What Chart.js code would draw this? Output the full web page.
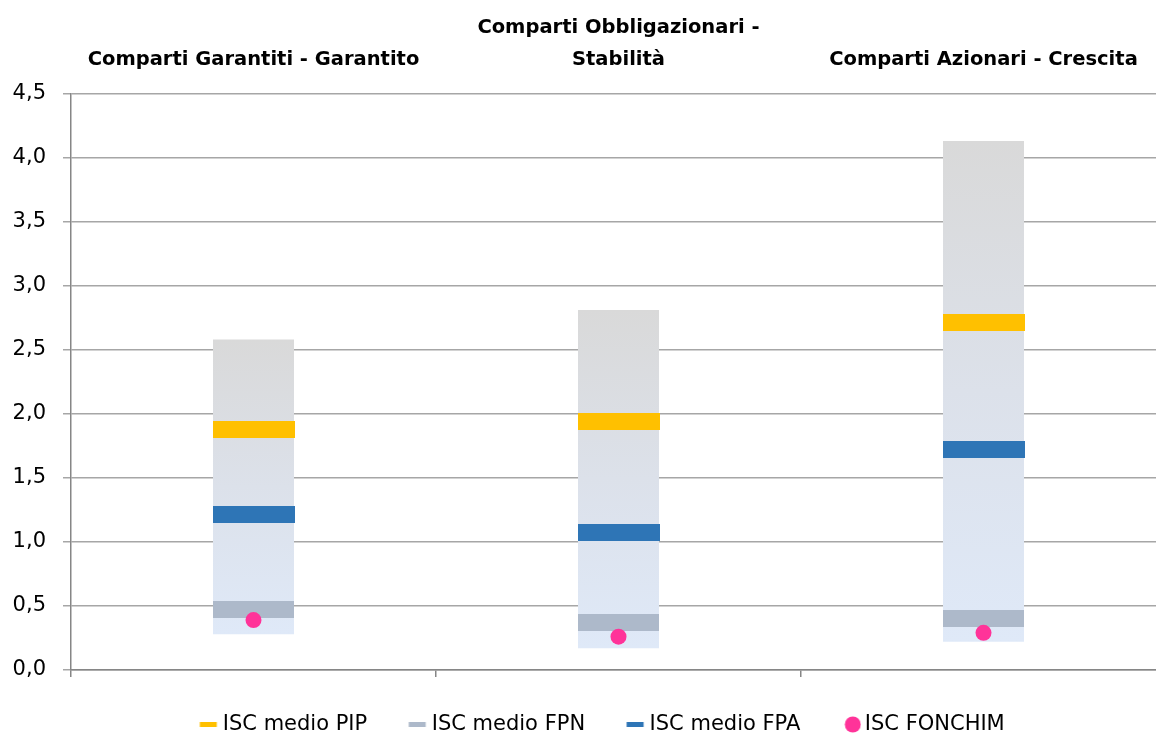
<!DOCTYPE html>
<html><head><meta charset="utf-8">
<script src="https://cdn.jsdelivr.net/npm/chart.js@4/dist/chart.umd.min.js"></script>
<style>
html,body{margin:0;padding:0;overflow:hidden;background:#fff;}
canvas{display:block;}
</style></head><body>
<canvas id="c" width="1175" height="734"></canvas>
<script>
// ---- data ----
const categories = [["Comparti Garantiti - Garantito"], ["Comparti Obbligazionari -", "Stabilità"], ["Comparti Azionari - Crescita"]];
const rangeMin = [0.28, 0.17, 0.22];
const rangeMax = [2.58, 2.81, 4.13];
const iscPIP = [1.88, 1.94, 2.71];
const iscFPN = [0.47, 0.37, 0.40];
const iscFPA = [1.21, 1.07, 1.72];
const iscFONCHIM = [0.39, 0.26, 0.29];
const seriesNames = ["ISC medio PIP", "ISC medio FPN", "ISC medio FPA", "ISC FONCHIM"];

// ---- styles ----
const COL_PIP = '#ffc000', COL_FPN = '#adb9ca', COL_FPA = '#2e75b6', COL_FON = '#ff3399';
function band(color, w, h){ const c=document.createElement('canvas'); c.width=w; c.height=h; const x=c.getContext('2d'); x.fillStyle=color; x.fillRect(0,0,w,h); return c; }
function legendIcon(color, kind){
  const c=document.createElement('canvas'); c.width=60; c.height=21; const x=c.getContext('2d'); x.fillStyle=color;
  if(kind==='dot'){ x.beginPath(); x.arc(51.5,10.5,8,0,Math.PI*2); x.fill(); }
  else { x.fillRect(40.5,8,17,5); }
  return c;
}
const legendIcons = [legendIcon(COL_PIP,'dash'), legendIcon(COL_FPN,'dash'), legendIcon(COL_FPA,'dash'), legendIcon(COL_FON,'dot')];

const rangeData = rangeMin.map((v,i)=>[v, rangeMax[i]]);

const titlePlugin = {
  id:'catTitles',
  afterDraw(chart){
    const ctx=chart.ctx, xs=chart.scales.x;
    ctx.save();
    ctx.font='bold 19.5px "DejaVu Sans"'; ctx.fillStyle='#000'; ctx.textAlign='center'; ctx.textBaseline='alphabetic';
    chart.data.labels.forEach((lab,i)=>{
      const lines=Array.isArray(lab)?lab:[lab];
      const x=xs.getPixelForValue(i);
      lines.forEach((ln,j)=>ctx.fillText(ln, x, 65-(lines.length-1-j)*32));
    });
    ctx.restore();
  }
};

Chart.defaults.color='#000';
Chart.defaults.font.family='"DejaVu Sans"';

new Chart(document.getElementById('c'), {
  type:'bar',
  data:{
    labels: categories,
    datasets:[
      { type:'bar', label:'range', data: rangeData, order:10,
        barPercentage: 81/365, categoryPercentage:1,
        backgroundColor:(ctx)=>{
          const chart=ctx.chart, ys=chart.scales.y;
          if(ctx.type!=='data' || !ys || !chart.chartArea) return '#dcdfe6';
          const top=ys.getPixelForValue(ctx.raw[1]), bot=ys.getPixelForValue(ctx.raw[0]);
          if(!isFinite(top)||!isFinite(bot)) return '#dcdfe6';
          const g=chart.ctx.createLinearGradient(0,bot,0,top);
          g.addColorStop(0,'#dfe9f8'); g.addColorStop(0.5,'#dce1ea'); g.addColorStop(1,'#d9d9d9');
          return g;
        },
        borderWidth:0 },
      { type:'line', label:seriesNames[0], data: iscPIP, showLine:false, order:3,
        pointStyle: band(COL_PIP,82,17), backgroundColor:COL_PIP, borderColor:COL_PIP, pointRadius:8 },
      { type:'line', label:seriesNames[1], data: iscFPN, showLine:false, order:2,
        pointStyle: band(COL_FPN,81,17), backgroundColor:COL_FPN, borderColor:COL_FPN, pointRadius:8 },
      { type:'line', label:seriesNames[2], data: iscFPA, showLine:false, order:3,
        pointStyle: band(COL_FPA,82,17), backgroundColor:COL_FPA, borderColor:COL_FPA, pointRadius:8 },
      { type:'line', label:seriesNames[3], data: iscFONCHIM, showLine:false, order:0,
        pointStyle:'circle', pointRadius:8, backgroundColor:COL_FON, borderColor:COL_FON, borderWidth:0 }
    ]
  },
  options:{
    responsive:false, animation:false, devicePixelRatio:1,
    layout:{ padding:{ top:93.5, right:4, left:0, bottom:-11 } },
    scales:{
      x:{ offset:true,
        grid:{ display:true, offset:true, drawOnChartArea:false, drawTicks:true, tickLength:7, color:'#868686', lineWidth:1.5 },
        border:{ color:'#868686', width:1.5 },
        ticks:{ display:false },
        afterFit:(s)=>{ s.height=36; } },
      y:{ min:0, max:4.5,
        ticks:{ stepSize:0.5, padding:17, font:{ size:21 }, color:'#000',
          callback:(v)=>Number(v).toFixed(1).replace('.',',') },
        grid:{ color:'#a6a6a6', lineWidth:1.5, tickLength:8, drawTicks:true },
        border:{ color:'#868686', width:1.5 },
        afterFit:(s)=>{ s.width=71; } }
    },
    plugins:{
      tooltip:{ enabled:false },
      legend:{ position:'bottom',
        labels:{ usePointStyle:true, pointStyleWidth:46, boxHeight:21, padding:8,
          font:{ size:21 }, color:'#000',
          filter:(item)=>item.datasetIndex!==0,
          sort:(a,b)=>a.datasetIndex-b.datasetIndex,
          generateLabels:(chart)=>{
            const items=Chart.defaults.plugins.legend.labels.generateLabels(chart);
            items.forEach(it=>{ if(it.datasetIndex>0) it.pointStyle=legendIcons[it.datasetIndex-1]; });
            return items;
          } } }
    }
  },
  plugins:[titlePlugin]
});
</script>
</body></html>
